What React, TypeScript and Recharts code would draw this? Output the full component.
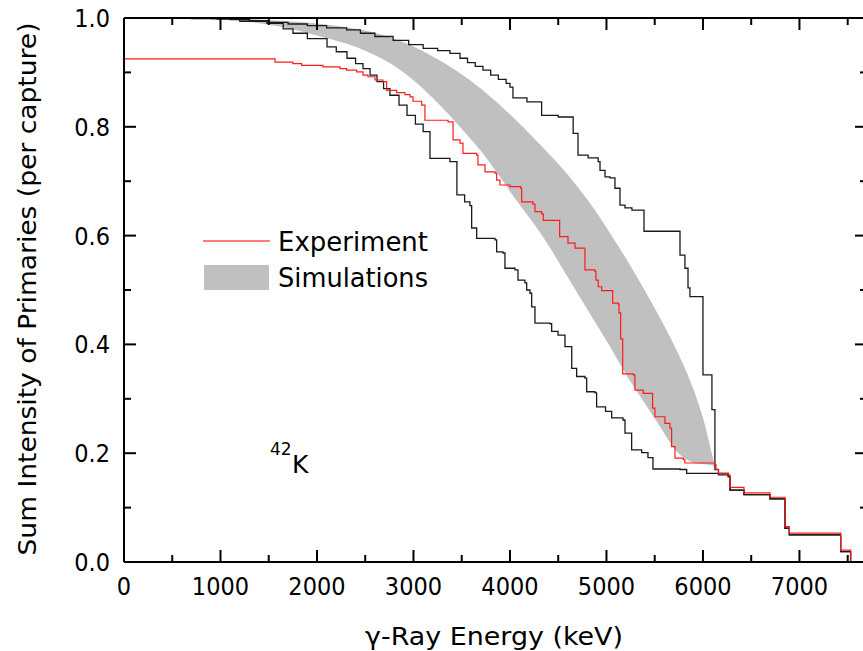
import React from "react";
import { ComposedChart, Line, Area, XAxis, YAxis } from "recharts";

// ---- data (keV, value) ----
const experiment: [number, number][] = [
  [0, 0.925], [1565, 0.919], [1751, 0.916], [1841, 0.913], [2062, 0.91], [2238, 0.907], [2307, 0.904],
  [2411, 0.901], [2477, 0.895], [2528, 0.892], [2601, 0.886], [2684, 0.883], [2722, 0.867], [2826, 0.863],
  [2912, 0.859], [2964, 0.855], [2995, 0.847], [3085, 0.84], [3119, 0.812], [3358, 0.809], [3410, 0.776],
  [3482, 0.77], [3513, 0.751], [3655, 0.748], [3668, 0.73], [3741, 0.717], [3845, 0.715], [3862, 0.702],
  [3896, 0.693], [4000, 0.69], [4111, 0.687], [4121, 0.662], [4238, 0.658], [4259, 0.644], [4328, 0.64],
  [4345, 0.628], [4515, 0.598], [4601, 0.586], [4674, 0.577], [4777, 0.537], [4881, 0.534], [4891, 0.518],
  [4915, 0.506], [4950, 0.499], [5064, 0.476], [5122, 0.474], [5130, 0.458], [5147, 0.41], [5168, 0.346],
  [5278, 0.344], [5295, 0.316], [5381, 0.31], [5478, 0.283], [5502, 0.267], [5606, 0.255], [5658, 0.246],
  [5675, 0.212], [5710, 0.191], [5797, 0.188], [5813, 0.182], [6124, 0.179], [6135, 0.17], [6162, 0.163],
  [6262, 0.16], [6280, 0.137], [6425, 0.127], [6694, 0.119], [6850, 0.065], [6895, 0.053], [7427, 0.022],
  [7530, 0],
];

const upperEnvelope: [number, number][] = [
  [0, 1.0], [900, 0.999], [1100, 0.997], [1300, 0.995], [1500, 0.992], [1700, 0.989], [1900, 0.986],
  [2100, 0.982], [2307, 0.978], [2450, 0.972], [2600, 0.966], [2789, 0.959], [2950, 0.951], [3100, 0.944],
  [3250, 0.94], [3378, 0.935], [3482, 0.926], [3560, 0.918], [3640, 0.911], [3720, 0.904], [3800, 0.895],
  [3880, 0.887], [3960, 0.88], [4000, 0.873], [4031, 0.853], [4176, 0.846], [4328, 0.821], [4500, 0.818],
  [4655, 0.788], [4705, 0.748], [4810, 0.743], [4914, 0.736], [4933, 0.72], [4985, 0.708], [5036, 0.706],
  [5088, 0.687], [5140, 0.656], [5192, 0.651], [5264, 0.647], [5389, 0.608], [5762, 0.564], [5813, 0.54],
  [5845, 0.504], [5865, 0.488], [6000, 0.344], [6093, 0.28], [6124, 0.17], [6160, 0.16], [6262, 0.157],
  [6280, 0.132], [6425, 0.124], [6694, 0.116], [6850, 0.062], [6895, 0.05], [7427, 0.019], [7530, 0],
];

const lowerEnvelope: [number, number][] = [
  [0, 1.0], [700, 0.999], [964, 0.998], [1200, 0.994], [1482, 0.99], [1650, 0.98], [1751, 0.972],
  [1900, 0.962], [2104, 0.947], [2200, 0.938], [2311, 0.926], [2400, 0.916], [2477, 0.907], [2550, 0.895],
  [2622, 0.883], [2690, 0.87], [2756, 0.858], [2850, 0.84], [2933, 0.821], [3020, 0.805], [3100, 0.791],
  [3171, 0.742], [3378, 0.736], [3450, 0.675], [3530, 0.662], [3585, 0.655], [3603, 0.614], [3655, 0.595],
  [3845, 0.592], [3862, 0.57], [3927, 0.568], [3948, 0.54], [4052, 0.537], [4083, 0.518], [4155, 0.513],
  [4173, 0.5], [4207, 0.494], [4225, 0.469], [4259, 0.439], [4415, 0.438], [4432, 0.424], [4498, 0.417],
  [4570, 0.396], [4640, 0.356], [4691, 0.341], [4777, 0.338], [4795, 0.313], [4881, 0.311], [4898, 0.285],
  [4990, 0.277], [5054, 0.265], [5171, 0.261], [5192, 0.237], [5261, 0.206], [5365, 0.201], [5430, 0.192],
  [5482, 0.171], [5762, 0.17], [5831, 0.163], [6262, 0.157], [6280, 0.132], [6425, 0.124], [6694, 0.116],
  [6850, 0.062], [6895, 0.05], [7427, 0.019], [7530, 0],
];

// simulations band: keV, low, high
const simulations: [number, number, number][] = [
  [0, 1, 1], [500, 0.9995, 1], [1000, 0.998, 1.0], [1300, 0.993, 0.998], [1600, 0.985, 0.995],
  [2000, 0.968, 0.99], [2300, 0.953, 0.983], [2500, 0.94, 0.977], [2860, 0.905, 0.958], [3100, 0.87, 0.939],
  [3300, 0.835, 0.919], [3480, 0.8, 0.899], [3700, 0.755, 0.87], [3896, 0.708, 0.84], [4069, 0.664, 0.811],
  [4238, 0.624, 0.781], [4400, 0.582, 0.751], [4560, 0.535, 0.72], [4700, 0.494, 0.69], [4860, 0.447, 0.652],
  [5036, 0.396, 0.605], [5209, 0.343, 0.556], [5378, 0.297, 0.505], [5554, 0.249, 0.449], [5728, 0.203, 0.389],
  [5896, 0.183, 0.32], [6000, 0.18, 0.265], [6090, 0.178, 0.201], [6124, 0.176, 0.176],
];

const xTicks = [0, 500, 1000, 1500, 2000, 2500, 3000, 3500, 4000, 4500, 5000, 5500, 6000, 6500, 7000, 7500];
const yTicks = [0, 0.1, 0.2, 0.3, 0.4, 0.5, 0.6, 0.7, 0.8, 0.9, 1.0];
const xDomain: [number, number] = [0, 7700];
const yDomain: [number, number] = [0, 1];

const xTitle = "\u03b3-Ray Energy (keV)";
const yTitle = "Sum Intensity of Primaries (per capture)";
const legendItems = ["Experiment", "Simulations"];

// ---- layout ----
const W = 880;
const H = 651;
const M = { top: 17, right: 12, bottom: 88, left: 123 };
const PL = 124;
const PR = 867;
const PT = 18;
const PB = 562;
const FONT = "'DejaVu Sans', Verdana, sans-serif";

const toPts = (a: [number, number][]) => a.map(([x, v]) => ({ x, v }));
const expData = toPts(experiment);
const upData = toPts(upperEnvelope);
const loData = toPts(lowerEnvelope);
const bandData = simulations.map(([x, lo, hi]) => ({ x, range: [lo, hi] }));

const digitW = (s: string) => s.split("").reduce((acc, c) => acc + (c === "." ? 0.318 : 0.636), 0) * 25 * 0.9;

const XTickBottom = (p: any) => {
  const v = p.payload.value;
  const major = v % 1000 === 0;
  const label = String(v);
  return (
    <g>
      <line x1={p.x} x2={p.x} y1={PB} y2={PB - (major ? 12 : 7)} stroke="#000" strokeWidth={2} />
      {major && (
        <text x={p.x} y={PB + 33} textAnchor="middle" fontFamily={FONT} fontSize={25} fill="#000"
          textLength={digitW(label)} lengthAdjust="spacingAndGlyphs">{label}</text>
      )}
    </g>
  );
};
const XTickTop = (p: any) => {
  const v = p.payload.value;
  const major = v % 1000 === 0;
  return <line x1={p.x} x2={p.x} y1={PT} y2={PT + (major ? 12 : 7)} stroke="#000" strokeWidth={2} />;
};
const YTickLeft = (p: any) => {
  const v = p.payload.value;
  const major = Math.round(v * 10) % 2 === 0;
  const label = v.toFixed(1);
  return (
    <g>
      <line x1={PL} x2={PL + (major ? 12 : 7)} y1={p.y} y2={p.y} stroke="#000" strokeWidth={2} />
      {major && (
        <text x={110} y={p.y + 9} textAnchor="end" fontFamily={FONT} fontSize={25} fill="#000"
          textLength={digitW(label)} lengthAdjust="spacingAndGlyphs">{label}</text>
      )}
    </g>
  );
};
const YTickRight = (p: any) => {
  const v = p.payload.value;
  const major = Math.round(v * 10) % 2 === 0;
  return <line x1={PR} x2={PR - (major ? 12 : 7)} y1={p.y} y2={p.y} stroke="#000" strokeWidth={2} />;
};

export default function App() {
  return (
    <div style={{ position: "absolute", left: 0, top: 0, width: 863, height: 651, overflow: "hidden", background: "#fff" }}>
      <ComposedChart width={W} height={H} margin={M}>
        <Area data={bandData} dataKey="range" type="monotone" fill="#c0c0c0" fillOpacity={1} stroke="none" isAnimationActive={false} />
        <Line data={upData} dataKey="v" type="stepAfter" stroke="#1a1a1a" strokeWidth={1.3} dot={false} isAnimationActive={false} />
        <Line data={loData} dataKey="v" type="stepAfter" stroke="#1a1a1a" strokeWidth={1.3} dot={false} isAnimationActive={false} />
        <Line data={expData} dataKey="v" type="stepAfter" stroke="#ff1a1a" strokeWidth={1.2} dot={false} isAnimationActive={false} />
        <XAxis dataKey="x" type="number" domain={xDomain} ticks={xTicks} interval={0} allowDataOverflow
          height={1} tickSize={0} tickLine={false} axisLine={{ stroke: "#000", strokeWidth: 2 }} tick={<XTickBottom />} />
        <XAxis xAxisId="top" orientation="top" dataKey="x" type="number" domain={xDomain} ticks={xTicks} interval={0}
          allowDataOverflow height={1} tickSize={0} tickLine={false} axisLine={{ stroke: "#000", strokeWidth: 2 }} tick={<XTickTop />} />
        <YAxis type="number" domain={yDomain} ticks={yTicks} interval={0} allowDataOverflow width={1} tickSize={0}
          tickLine={false} axisLine={{ stroke: "#000", strokeWidth: 2 }} tick={<YTickLeft />} />
        <YAxis yAxisId="right" orientation="right" type="number" domain={yDomain} ticks={yTicks} interval={0}
          allowDataOverflow width={1} tickSize={0} tickLine={false} axisLine={{ stroke: "#000", strokeWidth: 2 }} tick={<YTickRight />} />
      </ComposedChart>
      <svg width={863} height={651} style={{ position: "absolute", left: 0, top: 0, pointerEvents: "none" }}>
        <text x={494} y={645} textAnchor="middle" fontFamily={FONT} fontSize={25} fill="#000"
          textLength={258} lengthAdjust="spacingAndGlyphs">{xTitle}</text>
        <text transform="translate(36,289) rotate(-90)" textAnchor="middle" fontFamily={FONT} fontSize={24} fill="#000"
          textLength={533} lengthAdjust="spacingAndGlyphs">{yTitle}</text>
        <line x1={203} x2={270} y1={241} y2={241} stroke="#ff5050" strokeWidth={1.5} />
        <text x={278} y={251} fontFamily={FONT} fontSize={26} fill="#000" textLength={150} lengthAdjust="spacingAndGlyphs">{legendItems[0]}</text>
        <rect x={204} y={265} width={65} height={25} fill="#c0c0c0" />
        <text x={278} y={287} fontFamily={FONT} fontSize={26} fill="#000" textLength={150} lengthAdjust="spacingAndGlyphs">{legendItems[1]}</text>
        <text x={270} y={455} fontFamily={FONT} fontSize={17} fill="#000">42</text>
        <text x={292} y={473} fontFamily={FONT} fontSize={25} fill="#000">K</text>
      </svg>
    </div>
  );
}
